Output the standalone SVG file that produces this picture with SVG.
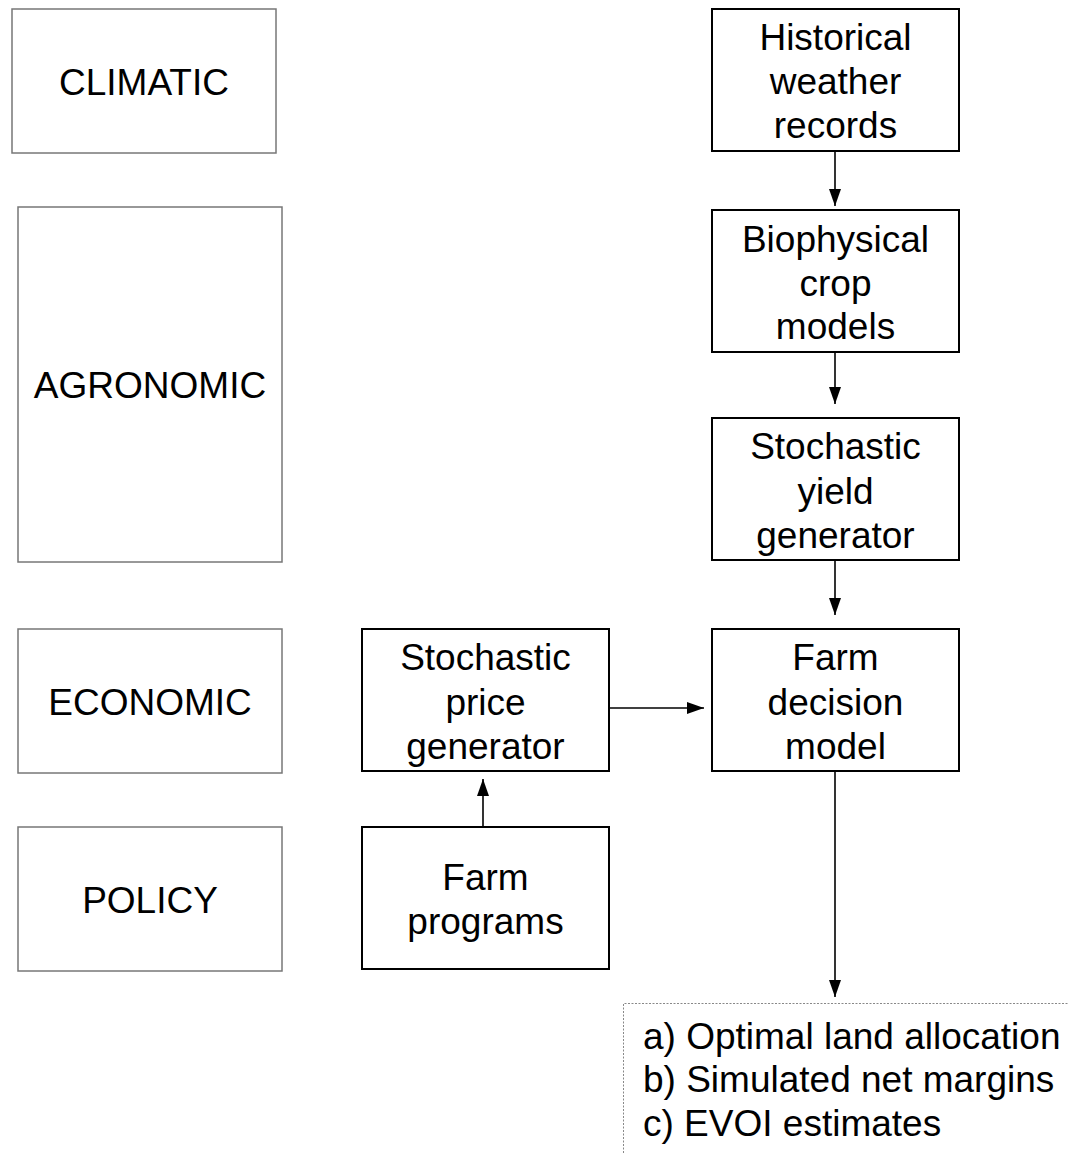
<svg xmlns="http://www.w3.org/2000/svg" width="1068" height="1154" viewBox="0 0 1068 1154">
<style>
text{font-family:"Liberation Sans",Arial,sans-serif;font-size:37px;fill:#000;text-anchor:middle}
.lvl{fill:#fff;stroke:#777;stroke-width:1.5}
.box{fill:#fff;stroke:#000;stroke-width:2}
.out{fill:none;stroke:#888;stroke-width:1;stroke-dasharray:2 1.5}
.con{stroke:#000;stroke-width:1.6;fill:none;marker-end:url(#ah)}
</style>
<defs>
<marker id="ah" markerUnits="userSpaceOnUse" markerWidth="17" markerHeight="13" refX="17" refY="6.5" orient="auto">
<path d="M0,0.5 L17,6.5 L0,12.5 z" fill="#000"/>
</marker>
</defs>
<rect width="1068" height="1154" fill="#fff"/>
<g id="climatic"><rect class="lvl" x="12" y="9" width="264" height="144"/><text x="144" y="95">CLIMATIC</text></g>
<g id="agronomic"><rect class="lvl" x="18" y="207" width="264" height="355"/><text x="150" y="398">AGRONOMIC</text></g>
<g id="economic"><rect class="lvl" x="18" y="629" width="264" height="144"/><text x="150" y="715">ECONOMIC</text></g>
<g id="policy"><rect class="lvl" x="18" y="827" width="264" height="144"/><text x="150" y="913">POLICY</text></g>
<g id="historical"><rect class="box" x="712" y="9" width="247" height="142"/><text x="835.5" y="50">Historical</text><text x="835.5" y="94">weather</text><text x="835.5" y="138">records</text></g>
<g id="biophysical"><rect class="box" x="712" y="210" width="247" height="142"/><text x="835.5" y="252">Biophysical</text><text x="835.5" y="296">crop</text><text x="835.5" y="339">models</text></g>
<g id="yield"><rect class="box" x="712" y="418" width="247" height="142"/><text x="835.5" y="459">Stochastic</text><text x="835.5" y="504">yield</text><text x="835.5" y="548">generator</text></g>
<g id="farmdecision"><rect class="box" x="712" y="629" width="247" height="142"/><text x="835.5" y="670">Farm</text><text x="835.5" y="715">decision</text><text x="835.5" y="759">model</text></g>
<g id="price"><rect class="box" x="362" y="629" width="247" height="142"/><text x="485.5" y="670">Stochastic</text><text x="485.5" y="715">price</text><text x="485.5" y="759">generator</text></g>
<g id="programs"><rect class="box" x="362" y="827" width="247" height="142"/><text x="485.5" y="890">Farm</text><text x="485.5" y="934">programs</text></g>
<g id="outputs"><path class="out" d="M623.5,1160 V1003.5 H1070"/><text x="643" y="1049" style="text-anchor:start">a) Optimal land allocation</text><text x="643" y="1092" style="text-anchor:start">b) Simulated net margins</text><text x="643" y="1136" style="text-anchor:start">c) EVOI estimates</text></g>
<g id="connectors">
<line class="con" x1="835" y1="152" x2="835" y2="206"/>
<line class="con" x1="835" y1="353" x2="835" y2="404"/>
<line class="con" x1="835" y1="561" x2="835" y2="615"/>
<line class="con" x1="610" y1="708" x2="704" y2="708"/>
<line class="con" x1="483" y1="826" x2="483" y2="779"/>
<line class="con" x1="835" y1="772" x2="835" y2="997"/>
</g>
</svg>
